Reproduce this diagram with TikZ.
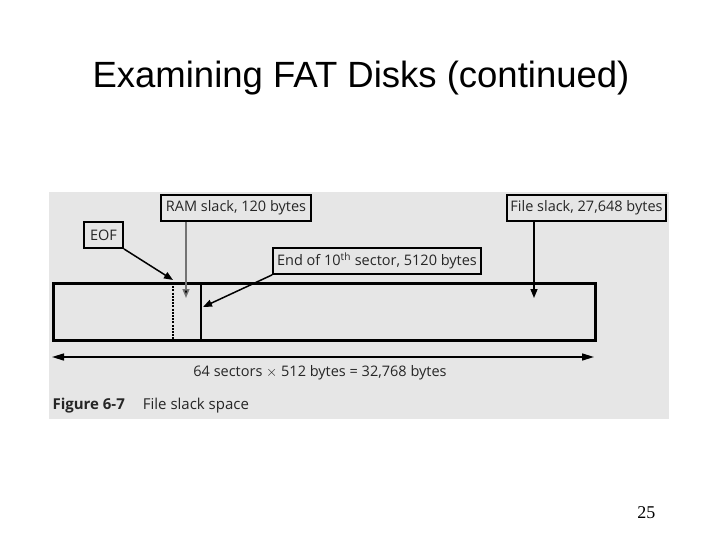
\documentclass[tikz,border=0pt]{standalone}
\usepackage{fontspec}
\setmainfont{Liberation Sans}
\newfontfamily\figfont{Open Sans}
\newfontfamily\numfont{Liberation Serif}
\usetikzlibrary{arrows.meta}
\definecolor{panel}{HTML}{E6E6E6}
\tikzset{
  lbl/.style={draw=black, line width=1.8pt, fill=panel, inner sep=0pt, minimum height=26pt,
              font=\figfont\fontsize{14.5}{16}\selectfont, text=black!85},
  pointer/.style={line width=1.5pt, -{Triangle[length=9pt,width=7pt]}},
  thickbox/.style={line width=3pt},
}
\begin{document}
\begin{tikzpicture}[x=1pt,y=-1pt]
\useasboundingbox (0,0) rectangle (720,540);
\fill[white] (0,0) rectangle (720,540);
\node[font=\fontsize{36.5}{40}\selectfont] (title) at (361,78) {Examining FAT Disks (continued)};
\node[font=\numfont\fontsize{18}{20}\selectfont, anchor=east] (pg) at (659,513) {25};
\fill[panel] (49,192) rectangle (669,419);
% main rectangle
\draw[thickbox] (53,283) rectangle (595,340);
\coordinate (eofT) at (173,283);
\coordinate (eofB) at (173,340);
\draw[line width=2.5pt, dash pattern=on 2pt off 1.2pt] (eofT) -- (eofB);
\coordinate (secT) at (201,283);
\coordinate (secB) at (201,340);
\draw[line width=1.8pt] (secT) -- (secB);
% labels
\node[lbl, minimum width=150pt] (ram) at (236,208) {RAM slack, 120 bytes};
\node[lbl, minimum width=39pt] (eof) at (103.5,235) {EOF};
\node[lbl, minimum width=208pt] (end) at (377,261) {End of 10\textsuperscript{th} sector, 5120 bytes};
\node[lbl, minimum width=159pt] (file) at (586.5,208) {File slack, 27,648 bytes};
% pointers
\coordinate (ramtip) at (186,298);
\coordinate (eoftip) at (173,280);
\coordinate (endtip) at (203,307);
\coordinate (filetip) at (534,298);
\draw[pointer, draw=black!55, -{Triangle[length=9pt,width=7pt,fill=black]}] (ram.south -| ramtip) -- (ramtip);
\draw[pointer] (eof.south east) -- (eoftip);
\draw[pointer] (end.south west) -- (endtip);
\draw[pointer] (file.south -| filetip) -- (filetip);
% dimension
\coordinate (dimL) at (52,357);
\coordinate (dimR) at (594,357);
\draw[line width=1.5pt, {Triangle[length=12pt,width=7pt]}-{Triangle[length=12pt,width=7pt]}] (dimL) -- (dimR);
\node[font=\figfont\fontsize{14.5}{16}\selectfont, text=black!85] (dimtxt) at (320,373) {64 sectors $\times$ 512 bytes = 32,768 bytes};
\node[anchor=west, font=\figfont\fontsize{15}{17}\selectfont, text=black!85] (cap) at (49,406) {\textbf{Figure 6-7}\hspace{18pt}File slack space};
\end{tikzpicture}
\end{document}
